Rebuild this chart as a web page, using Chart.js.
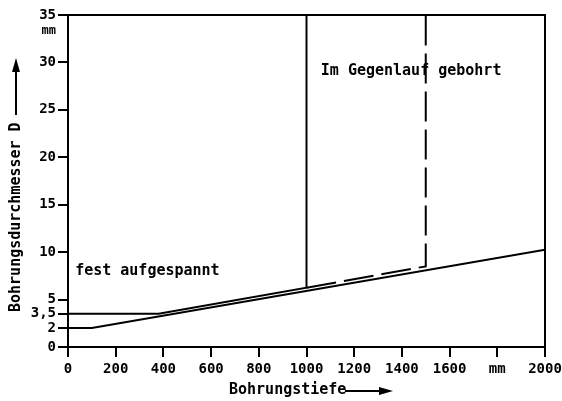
<!DOCTYPE html>
<html>
<head>
<meta charset="utf-8">
<script src="https://cdn.jsdelivr.net/npm/chart.js@4.4.1/dist/chart.umd.min.js"></script>
<style>
  body { margin: 0; background: #fff; }
  #wrap { width: 562px; height: 401px; }
</style>
</head>
<body>
<div id="wrap"><canvas id="myChart"></canvas></div>
<script>
// Werte
var xTicks = [0, 200, 400, 600, 800, 1000, 1200, 1400, 1600, 1800, 2000];
var yTicks = [0, 2, 3.5, 5, 10, 15, 20, 25, 30, 35];

var untereLinie = [{x: 0, y: 2}, {x: 100, y: 2}, {x: 2000, y: 10.25}];
var festAufgespannt = [{x: 0, y: 3.5}, {x: 380, y: 3.5}, {x: 1000, y: 6.25}, {x: 1000, y: 35}];
var gegenlauf = [{x: 1000, y: 6.25}, {x: 1500, y: 8.5}, {x: 1500, y: 35}];

var schrift = "'DejaVu Sans Mono', monospace";

// Rahmen, Texte und Achsentitel
var extras = {
    id: 'extras',
    afterDraw: function (chart) {
        var ctx = chart.ctx;
        var a = chart.chartArea;
        var xs = chart.scales.x, ys = chart.scales.y;
        ctx.save();
        ctx.strokeStyle = '#000';
        ctx.lineWidth = 2;
        ctx.beginPath();
        ctx.moveTo(a.left, a.top);
        ctx.lineTo(a.right, a.top);
        ctx.lineTo(a.right, a.bottom);
        ctx.stroke();

        ctx.fillStyle = '#000';
        ctx.font = 'bold 12px ' + schrift;
        ctx.textAlign = 'right';
        ctx.textBaseline = 'middle';
        ctx.fillText('mm', 56, ys.getPixelForValue(35) + 16);

        ctx.font = 'bold 15px ' + schrift;
        ctx.textAlign = 'left';
        ctx.fillText('fest aufgespannt', xs.getPixelForValue(30), ys.getPixelForValue(8));
        ctx.fillText('Im Gegenlauf gebohrt', xs.getPixelForValue(1060), ys.getPixelForValue(29.1));

        // x-Achsentitel
        ctx.fillText('Bohrungstiefe', 229, 390);
        ctx.beginPath();
        ctx.moveTo(345, 391);
        ctx.lineTo(382, 391);
        ctx.stroke();
        ctx.beginPath();
        ctx.moveTo(393, 391);
        ctx.lineTo(379, 387);
        ctx.lineTo(379, 395);
        ctx.closePath();
        ctx.fill();

        // y-Achsentitel
        ctx.translate(16, 312);
        ctx.rotate(-Math.PI / 2);
        ctx.fillText('Bohrungsdurchmesser D', 0, 0);
        ctx.beginPath();
        ctx.moveTo(197, 0);
        ctx.lineTo(243, 0);
        ctx.stroke();
        ctx.beginPath();
        ctx.moveTo(254, 0);
        ctx.lineTo(240, -4);
        ctx.lineTo(240, 4);
        ctx.closePath();
        ctx.fill();
        ctx.restore();
    }
};

var ctx = document.getElementById('myChart');
var myChart = new Chart(ctx, {
    type: 'scatter',
    data: {
        datasets: [
            { data: untereLinie, showLine: true, borderColor: '#000', borderWidth: 2, pointRadius: 0, tension: 0 },
            { data: festAufgespannt, showLine: true, borderColor: '#000', borderWidth: 2, pointRadius: 0, tension: 0 },
            { data: gegenlauf, showLine: true, borderColor: '#000', borderWidth: 2, borderDash: [30, 8], pointRadius: 0, tension: 0 }
        ]
    },
    options: {
        responsive: true,
        maintainAspectRatio: false,
        animation: false,
        layout: { padding: { top: 15, right: 17, left: 0, bottom: 0 } },
        plugins: { legend: { display: false }, tooltip: { enabled: false } },
        scales: {
            x: {
                type: 'linear', min: 0, max: 2000,
                afterBuildTicks: function (s) { s.ticks = xTicks.map(function (v) { return {value: v}; }); },
                afterFit: function (s) { s.height = 54; s.paddingLeft = 0; s.paddingRight = 0; },
                border: { color: '#000', width: 2 },
                grid: { drawOnChartArea: false, color: '#000', lineWidth: 2, tickLength: 10 },
                ticks: {
                    autoSkip: false, maxRotation: 0, padding: 4, color: '#000',
                    font: { family: schrift, size: 14, weight: 'bold' },
                    callback: function (v) { return v === 1800 ? 'mm' : String(v); }
                }
            },
            y: {
                type: 'linear', min: 0, max: 35,
                afterBuildTicks: function (s) { s.ticks = yTicks.map(function (v) { return {value: v}; }); },
                afterFit: function (s) { s.width = 68; s.paddingTop = 0; s.paddingBottom = 0; },
                border: { color: '#000', width: 2 },
                grid: { drawOnChartArea: false, color: '#000', lineWidth: 2, tickLength: 10 },
                ticks: {
                    autoSkip: false, padding: 2, color: '#000',
                    font: { family: schrift, size: 14, weight: 'bold' },
                    callback: function (v) { return v === 3.5 ? '3,5' : String(v); }
                }
            }
        }
    },
    plugins: [extras]
});
</script>
</body>
</html>
